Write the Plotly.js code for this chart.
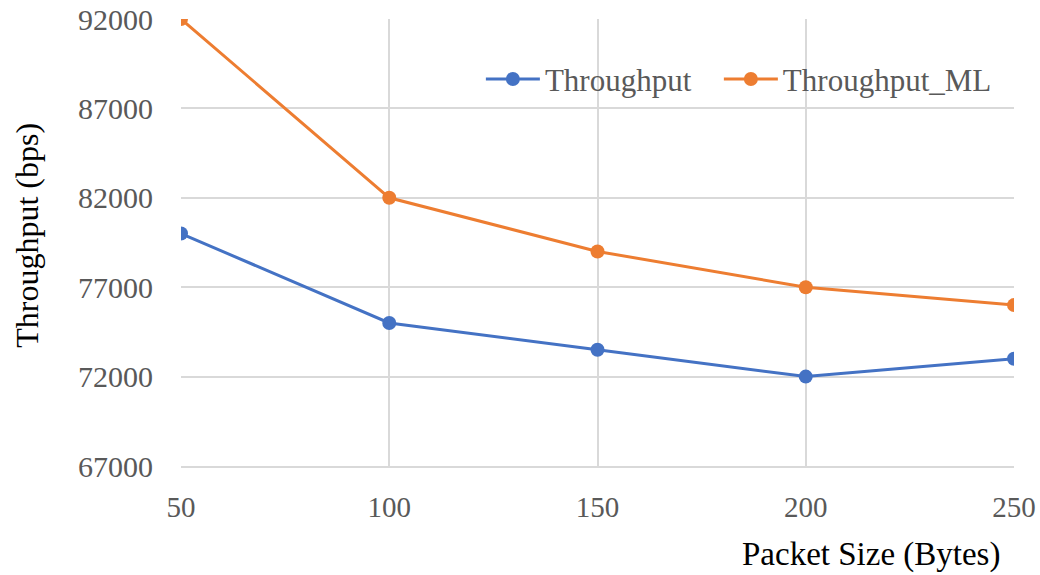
<!DOCTYPE html>
<html>
<head>
<meta charset="utf-8">
<script src="https://cdn.plot.ly/plotly-3.0.1.min.js"></script>
<style>html,body{margin:0;padding:0;background:#fff;}#chart{width:1040px;height:575px;}</style>
</head>
<body>
<div id="chart"></div>
<script>
var packetSizes = [50, 100, 150, 200, 250];
var throughput = [80000, 75000, 73500, 72000, 73000];
var throughputML = [92000, 82000, 79000, 77000, 76000];
var yTicks = [67000, 72000, 77000, 82000, 87000, 92000];
var seriesNames = ['Throughput', 'Throughput_ML'];

var font = 'Liberation Serif, Times New Roman, serif';
var traces = [
  {x: packetSizes, y: throughput, name: seriesNames[0], type: 'scatter', mode: 'lines+markers', legend: 'legend',
   line: {color: '#4472C4', width: 3}, marker: {color: '#4472C4', size: 14}},
  {x: packetSizes, y: throughputML, name: seriesNames[1], type: 'scatter', mode: 'lines+markers', legend: 'legend2',
   line: {color: '#ED7D31', width: 3}, marker: {color: '#ED7D31', size: 14}}
];
var legendBase = {y: 0.865, xanchor: 'left', yanchor: 'middle', orientation: 'h', itemwidth: 54,
                  font: {family: font, size: 31, color: '#595959'}, bgcolor: 'rgba(0,0,0,0)'};
var layout = {
  width: 1040, height: 575,
  margin: {l: 181, r: 26, t: 19, b: 109, autoexpand: false},
  paper_bgcolor: '#fff', plot_bgcolor: '#fff',
  font: {family: font, size: 30, color: '#595959'},
  showlegend: true,
  legend: Object.assign({x: 0.36}, legendBase),
  legend2: Object.assign({x: 0.6457}, legendBase),
  xaxis: {range: [50, 250], tickvals: packetSizes, showgrid: true, gridcolor: '#d9d9d9', gridwidth: 1.5,
          zeroline: false, showline: true, linecolor: '#d9d9d9', linewidth: 1.5, ticks: '', automargin: false,
          ticklabelstandoff: 14, tickfont: {family: font, size: 29, color: '#595959'}},
  yaxis: {range: [67000, 92000], tickvals: yTicks, tickformat: 'd', showgrid: true, gridcolor: '#d9d9d9', gridwidth: 1.5,
          zeroline: false, showline: false, ticks: '', ticklabelstandoff: 27, automargin: false,
          tickfont: {family: font, size: 30, color: '#595959'}},
  annotations: [
    {text: 'Packet Size (Bytes)', xref: 'paper', yref: 'paper', x: 1.0, y: -0.199, xanchor: 'right', yanchor: 'middle',
     xshift: -12, showarrow: false, font: {family: font, size: 33, color: '#000'}},
    {text: 'Throughput (bps)', xref: 'paper', yref: 'paper', x: 0, y: 0.515, xanchor: 'center', yanchor: 'middle',
     xshift: -154, textangle: -90, showarrow: false, font: {family: font, size: 32, color: '#000'}}
  ]
};
Plotly.newPlot('chart', traces, layout, {displayModeBar: false});
</script>
</body>
</html>
